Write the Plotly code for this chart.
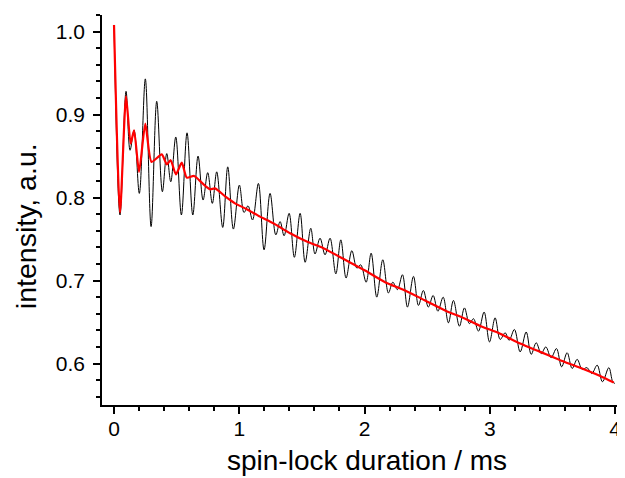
import plotly.graph_objects as go

# Black trace: oscillating signal (extrema)
black_t = [0.000, 0.048, 0.096, 0.128, 0.160, 0.202, 0.250, 0.296, 0.341, 0.386,
           0.421, 0.453, 0.493, 0.538, 0.583, 0.629, 0.671, 0.711, 0.748, 0.785,
           0.820, 0.868, 0.908, 0.953, 1.001, 1.038, 1.070, 1.106, 1.153, 1.198,
           1.246, 1.292, 1.326, 1.358, 1.398, 1.440, 1.486, 1.526, 1.571, 1.605,
           1.645, 1.685, 1.725, 1.771, 1.811, 1.853, 1.899, 1.939, 1.970, 2.013,
           2.053, 2.098, 2.146, 2.191, 2.226, 2.263, 2.303, 2.343, 2.391, 2.431,
           2.470, 2.510, 2.548, 2.586, 2.628, 2.670, 2.710, 2.758, 2.798, 2.838,
           2.870, 2.910, 2.955, 2.998, 3.043, 3.083, 3.123, 3.155, 3.197, 3.243,
           3.291, 3.331, 3.371, 3.411, 3.448, 3.490, 3.533, 3.574, 3.618, 3.658,
           3.698, 3.738, 3.776, 3.815, 3.858, 3.900, 3.951, 3.982, 3.999]
black_i = [1.008, 0.779, 0.928, 0.857, 0.881, 0.805, 0.943, 0.765, 0.916, 0.807,
           0.853, 0.819, 0.873, 0.779, 0.878, 0.779, 0.850, 0.797, 0.830, 0.793,
           0.831, 0.764, 0.837, 0.762, 0.815, 0.782, 0.790, 0.773, 0.817, 0.737,
           0.805, 0.755, 0.771, 0.754, 0.781, 0.728, 0.781, 0.722, 0.763, 0.732,
           0.751, 0.731, 0.751, 0.708, 0.749, 0.703, 0.736, 0.715, 0.719, 0.698,
           0.733, 0.680, 0.725, 0.685, 0.698, 0.689, 0.707, 0.668, 0.705, 0.670,
           0.688, 0.668, 0.682, 0.663, 0.680, 0.649, 0.676, 0.645, 0.667, 0.648,
           0.654, 0.639, 0.662, 0.626, 0.655, 0.629, 0.637, 0.628, 0.641, 0.614,
           0.638, 0.611, 0.625, 0.612, 0.620, 0.607, 0.618, 0.596, 0.613, 0.594,
           0.605, 0.593, 0.595, 0.588, 0.598, 0.578, 0.595, 0.578, 0.576]

# Red trace: smoothed signal
red_t = [0.000, 0.048, 0.096, 0.133, 0.160, 0.200, 0.250, 0.300, 0.381, 0.421,
         0.452, 0.494, 0.541, 0.581, 0.640, 0.707, 0.767, 0.807, 0.890, 0.966,
         1.060, 1.166, 1.272, 1.406, 1.539, 1.672, 1.845, 2.005, 2.165, 2.324,
         2.484, 2.644, 2.804, 2.930, 3.083, 3.243, 3.403, 3.562, 3.722, 3.882, 3.990]
red_i = [1.008, 0.782, 0.922, 0.865, 0.881, 0.831, 0.889, 0.843, 0.852, 0.840,
         0.845, 0.828, 0.842, 0.824, 0.826, 0.817, 0.810, 0.811, 0.801, 0.793,
         0.786, 0.777, 0.769, 0.757, 0.747, 0.739, 0.725, 0.712, 0.698, 0.688,
         0.676, 0.664, 0.654, 0.645, 0.636, 0.624, 0.614, 0.604, 0.595, 0.585, 0.577]

x_ticks = [0, 1, 2, 3, 4]
y_ticks = [0.6, 0.7, 0.8, 0.9, 1.0]
x_title = "spin-lock duration / ms"
y_title = "intensity, a.u."

fig = go.Figure()
fig.add_trace(go.Scatter(x=black_t, y=black_i, mode="lines",
                         line=dict(color="black", width=1, shape="spline", smoothing=1.0),
                         showlegend=False))
fig.add_trace(go.Scatter(x=red_t, y=red_i, mode="lines",
                         line=dict(color="#ff0000", width=2.2, shape="spline", smoothing=0.6),
                         showlegend=False))

font_family = "Liberation Sans, Arial, sans-serif"
fig.update_layout(
    width=617, height=470,
    margin=dict(l=94, r=0, t=7, b=73),
    paper_bgcolor="white", plot_bgcolor="white",
    font=dict(family=font_family, color="black", size=21),
    xaxis=dict(
        range=[-0.096, 4.08], showgrid=False, zeroline=False,
        showline=True, linecolor="black", linewidth=1.5,
        ticks="outside", ticklen=7, tickwidth=1.5, tickcolor="black",
        tickvals=x_ticks, ticktext=[str(v) for v in x_ticks],
        tickfont=dict(size=21), ticklabelstandoff=-3,
        minor=dict(ticks="outside", ticklen=4, tickwidth=1.5, tickcolor="black", dtick=0.2, tick0=0),
    ),
    yaxis=dict(
        range=[0.55, 1.02], showgrid=False, zeroline=False,
        showline=True, linecolor="black", linewidth=1.5,
        ticks="outside", ticklen=7, tickwidth=1.5, tickcolor="black",
        tickvals=y_ticks, ticktext=["%.1f" % v for v in y_ticks],
        tickfont=dict(size=21), ticklabelstandoff=4,
        minor=dict(ticks="outside", ticklen=4, tickwidth=1.5, tickcolor="black", dtick=0.02, tick0=0.5),
    ),
    annotations=[
        dict(text=x_title, xref="paper", yref="paper", x=0.507, y=-0.184,
             xanchor="center", yanchor="bottom", showarrow=False, borderpad=0,
             font=dict(size=28, family=font_family, color="black")),
        dict(text=y_title, xref="paper", yref="paper", x=-0.145, y=0.459,
             xanchor="center", yanchor="middle", showarrow=False, textangle=-90,
             font=dict(size=28.5, family=font_family, color="black")),
    ],
)

fig.write_html("out.html")
